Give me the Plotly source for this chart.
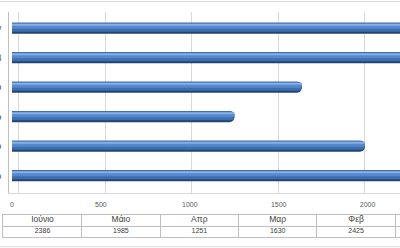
import plotly.graph_objects as go

# ---- data ----
months = ["Ιούνιο", "Μάιο", "Απρ", "Μαρ", "Φεβ", "Ιαν"]
values = [2386, 1985, 1251, 1630, 2425, 2450]
table_values = ["2386", "1985", "1251", "1630", "2425", ""]
x_ticks = [0, 500, 1000, 1500, 2000]

W, H = 400, 248
def py(p):  # pixel y -> paper y
    return 1 - p / H

fig = go.Figure()

# cylinder-like bars built from overlaid bands
px_u = 1 / 29.48
top = 0.1865
bands = [
    (-top, 0.373, "#234472", "50%"),
    (top - 9 * px_u, 9 * px_u, "#3d6eae", "50%"),
    (top - 6 * px_u, 5 * px_u, "#5488cf", 2),
    (top - 3 * px_u, 2 * px_u, "#86b0e6", 1),
]
for off, wd, col, cr in bands:
    fig.add_trace(go.Bar(
        y=months, x=values, orientation="h",
        offset=off, width=wd,
        marker=dict(color=col, line=dict(width=0), cornerradius=cr),
        hoverinfo="skip", showlegend=False, xaxis="x", yaxis="y"))

# back-wall gridlines (perspective scale)
fig.add_trace(go.Scatter(x=[None], y=[None], xaxis="x2", yaxis="y",
                         showlegend=False, hoverinfo="skip"))

# data table drawn on its own axes: header row and value row
col_idx = list(range(len(months)))
fig.add_trace(go.Scatter(
    x=col_idx, y=[1.5] * len(months), text=months, mode="text",
    textfont=dict(family="Liberation Sans", size=8.5, color="#404040"),
    xaxis="x3", yaxis="y3", showlegend=False, hoverinfo="skip"))
fig.add_trace(go.Scatter(
    x=col_idx, y=[0.5] * len(months), text=table_values, mode="text",
    textfont=dict(family="Liberation Sans", size=7, color="#404040"),
    xaxis="x3", yaxis="y3", showlegend=False, hoverinfo="skip"))

col_w = 78.4
tx0 = 3.3
x0_left = 9
fig.update_layout(
    width=W, height=H,
    margin=dict(l=0, r=0, t=0, b=0),
    paper_bgcolor="white", plot_bgcolor="white",
    barmode="overlay",
    xaxis=dict(domain=[x0_left / W, 1],
               range=[-(12 - x0_left) / 0.1778, (W - 12) / 0.1778],
               tickvals=x_ticks, ticks="", showgrid=False, zeroline=False,
               showline=True, linecolor="#d9d9d9", linewidth=1,
               ticklabelstandoff=5,
               tickfont=dict(family="Liberation Sans", size=7, color="#595959"),
               automargin=False),
    xaxis2=dict(overlaying="x", domain=[x0_left / W, 1],
                range=[-(18.5 - x0_left) / 0.173, (W - 18.5) / 0.173],
                tickvals=x_ticks + [2500], showticklabels=False,
                showgrid=True, gridcolor="#d9d9d9", gridwidth=1,
                zeroline=False, anchor="y"),
    yaxis=dict(domain=[py(193), py(12)], type="category",
               categoryorder="array", categoryarray=months,
               range=[-0.587, 5.553], ticks="", showgrid=False,
               zeroline=False, showline=True, linecolor="#bfbfbf",
               ticklabelstandoff=5,
               tickfont=dict(family="Liberation Sans", size=8.5, color="#404040"),
               automargin=False),
    xaxis3=dict(domain=[tx0 / W, 1], anchor="y3",
                range=[-0.5, -0.5 + (W - tx0) / col_w],
                tickvals=[i + 0.5 for i in col_idx], showticklabels=False,
                ticks="", showgrid=True, gridcolor="#bfbfbf", gridwidth=1,
                zeroline=False, showline=True, mirror=True,
                linecolor="#bfbfbf", automargin=False),
    yaxis3=dict(domain=[py(237.3), py(214.7)], anchor="x3",
                range=[0, 2], tickvals=[1], showticklabels=False, ticks="",
                showgrid=True, gridcolor="#bfbfbf", gridwidth=1,
                zeroline=False, showline=True, linecolor="#bfbfbf",
                automargin=False),
    shapes=[
        dict(type="line", xref="paper", yref="paper", x0=0, x1=1,
             y0=py(1.5), y1=py(1.5), line=dict(color="#d9d9d9", width=1)),
        dict(type="line", xref="paper", yref="paper", x0=0, x1=1,
             y0=py(246.7), y1=py(246.7), line=dict(color="#d9d9d9", width=1)),
    ],
)

fig.write_html("out.html")
